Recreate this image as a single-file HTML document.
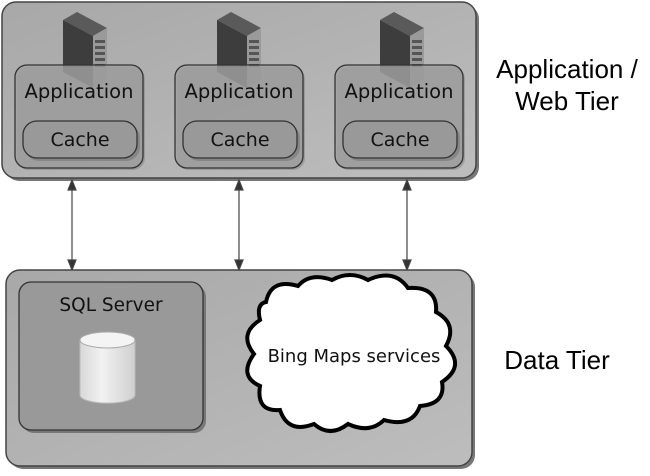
<!DOCTYPE html>
<html><head><meta charset="utf-8"><style>body{margin:0;background:#fff}</style></head><body>
<svg width="650" height="471" viewBox="0 0 650 471" xmlns="http://www.w3.org/2000/svg" font-family="'DejaVu Sans','Liberation Sans',sans-serif">
<defs>
<linearGradient id="bg" x1="0" y1="0" x2="1" y2="1"><stop offset="0" stop-color="#a8a8a8"/><stop offset="1" stop-color="#bdbdbd"/></linearGradient>
<linearGradient id="cyl" x1="0" x2="1"><stop offset="0" stop-color="#d8d8d8"/><stop offset="0.4" stop-color="#f2f2f2"/><stop offset="1" stop-color="#cfcfcf"/></linearGradient>
<g id="srv">
<polygon points="0,8 14,0 44,16 30,24" fill="#5a5a5a"/>
<polygon points="0,8 30,24 30,76 0,60" fill="#3d3d3d"/>
<polygon points="30,24 44,16 44,68 30,76" fill="#9a9a9a"/>
<g fill="#555"><rect x="32" y="28" width="10" height="3"/><rect x="32" y="34" width="10" height="3"/><rect x="32" y="40" width="10" height="3"/><rect x="32" y="46" width="10" height="3"/><rect x="32" y="52" width="10" height="3"/></g>
</g>
<g id="app">
<rect x="2" y="2" width="128" height="103" rx="12" fill="#7f7f7f" opacity="0.5"/>
<rect x="0" y="0" width="128" height="103" rx="12" fill="#a0a0a0" fill-opacity="0.75" stroke="#333" stroke-width="1.3"/>
<text x="64" y="33" font-size="19.5" text-anchor="middle" fill="#111">Application</text>
<rect x="10" y="59" width="115" height="37" rx="14" fill="#777" opacity="0.6"/>
<rect x="8" y="56" width="114" height="37" rx="14" fill="#999" stroke="#333" stroke-width="1.3"/>
<text x="65" y="81" font-size="19" text-anchor="middle" fill="#111">Cache</text>
</g>
</defs>
<rect x="5" y="5" width="474" height="176" rx="14" fill="#777"/>
<rect x="2" y="2" width="474" height="176" rx="14" fill="url(#bg)" stroke="#444" stroke-width="1.5"/>
<use href="#srv" x="63" y="12"/><use href="#srv" x="217" y="12"/><use href="#srv" x="380" y="12"/>
<use href="#app" x="15" y="65"/><use href="#app" x="175" y="65"/><use href="#app" x="335" y="65"/>
<g stroke="#444" stroke-width="1.2" fill="#333">
<line x1="72" y1="188" x2="72" y2="262"/><polygon points="72,180 68,190 76,190"/><polygon points="72,270 68,260 76,260"/>
<line x1="239" y1="188" x2="239" y2="262"/><polygon points="239,180 235,190 243,190"/><polygon points="239,270 235,260 243,260"/>
<line x1="407" y1="188" x2="407" y2="262"/><polygon points="407,180 403,190 411,190"/><polygon points="407,270 403,260 411,260"/>
</g>
<rect x="9" y="273" width="466" height="196" rx="14" fill="#777"/>
<rect x="6" y="270" width="466" height="196" rx="14" fill="url(#bg)" stroke="#444" stroke-width="1.5"/>
<rect x="22" y="285" width="184" height="148" rx="12" fill="#777"/>
<rect x="19" y="282" width="184" height="148" rx="12" fill="#999" stroke="#333" stroke-width="1.3"/>
<text x="111" y="311" font-size="18.5" text-anchor="middle" fill="#111">SQL Server</text>
<path d="M80,340 v55 a27,8 0 0 0 55,0 v-55 z" fill="url(#cyl)" stroke="#bbb"/>
<ellipse cx="107.5" cy="340" rx="27.5" ry="8" fill="#f4f4f4" stroke="#aaa"/>
<path d="M266,302 q5,-24 32,-16 q12,-14 34,-6 q18,-10 36,0 q26,-12 40,8 q30,-2 28,24 q22,12 10,34 q20,20 -4,36 q4,22 -22,24 q-8,22 -36,14 q-14,14 -36,4 q-18,14 -34,0 q-26,10 -34,-14 q-24,2 -20,-24 q-22,-10 -6,-32 q-16,-20 6,-34 q-4,-16 6,-18 z" fill="#fff" stroke="#000" stroke-width="4"/>
<text x="354" y="362" font-size="18" text-anchor="middle" fill="#111">Bing Maps services</text>
<g font-family="'Liberation Sans',sans-serif" font-size="26" fill="#000" text-anchor="middle">
<text x="567" y="78">Application /</text>
<text x="567" y="110">Web Tier</text>
<text x="557" y="369">Data Tier</text>
</g>
</svg>
</body></html>
